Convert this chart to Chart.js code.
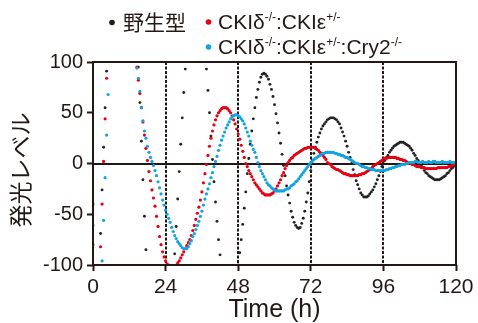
<!DOCTYPE html>
<html>
<head>
<meta charset="utf-8">
<script src="https://cdn.jsdelivr.net/npm/chart.js@4.4.0/dist/chart.umd.min.js"></script>
<style>
  html, body { margin: 0; padding: 0; background: #fff; }
  #wrap { width: 478px; height: 323px; position: relative; }
</style>
</head>
<body>
<div id="wrap"><canvas id="graph"></canvas></div>
<script>
// bioluminescence traces, one sample every 0.5 h from 0 to 120 h
const STEP_H = 0.5;

// 野生型
const wildType = [
  -80, -150, -170, -160, -115, -69, -26, 16, 55, 91,
  130, 165, 200, 230, 255, 275, 290, 298, 302, 300,
  295, 285, 272, 256, 238, 220, 198, 175, 152, 126,
  95, 60, 22, -16, -52, -85, -115, -145, -172, -196,
  -217, -235, -248, -257, -262, -262, -258, -248, -234, -216,
  -194, -170, -145, -117, -89, -62, -35, -8, 19, 45,
  70, 93, 115, 133, 146, 154, 158, 159, 157, 152,
  145, 137, 128, 118, 106, 93, 72, 50, 27, 4,
  -18, -38, -57, -75, -90, -102, -112, -119, -124, -127,
  -128, -128, -127, -123, -118, -110, -100, -88, -75, -60,
  -44, -28, -10, 5, 19, 32, 44, 55, 65, 73,
  80, 85, 88, 89, 88, 86, 83, 78, 73, 66,
  58, 49, 40, 30, 20, 9, -2, -12, -22, -31,
  -39, -47, -53, -58, -61, -63, -64, -63, -59, -54,
  -47, -38, -29, -18, -7, 3, 10, 16, 21, 26,
  30, 34, 37, 39, 41, 43, 44, 45, 45, 45,
  44, 43, 41, 39, 35, 31, 27, 22, 17, 11,
  6, 0, -6, -11, -17, -21, -25, -29, -31, -33,
  -33, -33, -32, -30, -28, -26, -23, -20, -16, -12,
  -8, -3, 0, 3, 6, 8, 11, 13, 15, 17,
  18, 19, 20, 21, 21, 21, 20, 19, 18, 17,
  15, 13, 10, 8, 5, 3, 0, -2, -4, -7,
  -9, -10, -12, -13, -14, -15, -16, -16, -16, -16,
  -15, -14, -13, -12, -10, -9, -7, -5, -4, -2,
  -1
];

// CKIδ-/-:CKIε+/-
const ckiMutant = [
  -40, -120, -150, -155, -125, -82, -40, 2, 44, 84,
  122, 155, 185, 210, 228, 240, 246, 248, 245, 238,
  227, 213, 197, 181, 165, 150, 136, 122, 108, 95,
  82, 69, 55, 41, 28, 15, 3, -8, -17, -26,
  -34, -42, -52, -62, -72, -80, -87, -92, -96, -99,
  -100, -101, -102, -101, -101, -100, -98, -96, -93, -90,
  -87, -84, -81, -78, -75, -71, -66, -61, -55, -49,
  -43, -36, -28, -19, -10, -1, 8, 17, 25, 32,
  38, 43, 47, 50, 52, 54, 55, 55, 55, 54,
  52, 50, 47, 43, 39, 34, 29, 24, 18, 12,
  6, 0, -3, -7, -10, -13, -16, -19, -21, -23,
  -25, -27, -29, -30, -31, -31, -31, -31, -30, -29,
  -27, -25, -22, -19, -16, -12, -9, -5, -2, 1,
  3, 5, 6, 8, 9, 10, 11, 12, 13, 14,
  15, 15, 16, 16, 16, 16, 16, 15, 14, 13,
  11, 10, 8, 6, 4, 1, 0, -1, -3, -4,
  -5, -6, -6, -7, -8, -9, -10, -10, -11, -11,
  -12, -12, -12, -12, -12, -12, -11, -11, -10, -10,
  -9, -8, -7, -6, -5, -3, -2, -1, 0, 1,
  2, 3, 4, 5, 5, 6, 6, 6, 6, 6,
  6, 5, 5, 4, 4, 3, 3, 2, 1, 0,
  0, -1, -1, -2, -3, -3, -3, -4, -4, -4,
  -5, -5, -5, -5, -5, -5, -5, -5, -4, -4,
  -4, -4, -4, -4, -4, -3, -3, -2, -1, -1,
  0
];

// CKIδ-/-:CKIε+/-:Cry2-/-
const cry2Mutant = [
  -61, -135, -160, -165, -150, -125, -96, -56, -14, 28,
  68, 106, 140, 170, 195, 214, 228, 236, 240, 238,
  232, 222, 208, 192, 174, 156, 138, 121, 105, 94,
  84, 71, 55, 42, 32, 25, 17, 11, 6, 2,
  -2, -7, -12, -18, -24, -30, -36, -41, -46, -50,
  -54, -58, -63, -67, -71, -74, -77, -79, -81, -83,
  -84, -84, -84, -82, -79, -76, -72, -69, -65, -61,
  -57, -52, -47, -41, -35, -30, -25, -20, -14, -9,
  -3, 2, 7, 13, 18, 23, 27, 31, 35, 38,
  41, 44, 46, 47, 48, 48, 47, 46, 44, 42,
  39, 35, 31, 27, 22, 18, 14, 11, 6, 1,
  -3, -7, -10, -13, -16, -19, -21, -22, -24, -25,
  -26, -27, -27, -27, -27, -27, -27, -26, -25, -25,
  -24, -22, -21, -20, -18, -17, -15, -13, -11, -9,
  -7, -5, -3, -1, 1, 2, 4, 5, 6, 7,
  8, 9, 10, 10, 11, 11, 11, 11, 11, 11,
  10, 10, 9, 9, 8, 8, 7, 6, 6, 5,
  4, 3, 2, 1, 0, 0, -1, -2, -3, -3,
  -4, -4, -5, -5, -6, -6, -6, -7, -7, -7,
  -7, -7, -7, -7, -6, -6, -5, -5, -4, -4,
  -3, -3, -2, -2, -1, -1, -1, 0, 0, 1,
  1, 1, 1, 2, 2, 1, 1, 1, 2, 1,
  1, 1, 2, 1, 1, 2, 2, 1, 1, 1,
  1, 2, 1, 1, 1, 1, 2, 1, 1, 1,
  0
];

const dayLines = [24, 48, 72, 96];

const INK = '#231815';
const RED = '#e60012';
const BLUE = '#12a4e2';
const FONT = "'Liberation Sans', Arial, 'Noto Sans CJK JP', sans-serif";

const hours = wildType.map((_, i) => i * STEP_H);
const toPoints = vals => vals.map((v, i) => ({ x: hours[i], y: v }));

// zero line, dotted 24 h lines and the box round the plot
const framePlugin = {
  id: 'frame',
  beforeDatasetsDraw(chart) {
    const { ctx, chartArea: a, scales: { x, y } } = chart;
    ctx.save();
    ctx.strokeStyle = INK;
    ctx.lineWidth = 2;
    ctx.setLineDash([3, 1.5]);
    dayLines.forEach(h => {
      const px = Math.round(x.getPixelForValue(h));
      ctx.beginPath();
      ctx.moveTo(px, a.top);
      ctx.lineTo(px, a.bottom);
      ctx.stroke();
    });
    ctx.setLineDash([]);
    const y0 = Math.round(y.getPixelForValue(0));
    ctx.beginPath();
    ctx.moveTo(a.left, y0);
    ctx.lineTo(a.right, y0);
    ctx.stroke();
    ctx.restore();
  },
  afterDatasetsDraw(chart) {
    const { ctx, chartArea: a } = chart;
    ctx.save();
    ctx.strokeStyle = INK;
    ctx.lineWidth = 2;
    ctx.strokeRect(a.left, a.top, a.right - a.left, a.bottom - a.top);
    ctx.restore();
  }
};

// legend with superscripts, and the rotated y title
const legendPlugin = {
  id: 'richLegend',
  afterDraw(chart) {
    const ctx = chart.ctx;
    ctx.save();
    ctx.fillStyle = INK;
    ctx.textBaseline = 'alphabetic';
    ctx.textAlign = 'left';

    const dot = (x, y, c) => {
      ctx.fillStyle = c;
      ctx.beginPath();
      ctx.arc(x, y, 2.8, 0, Math.PI * 2);
      ctx.fill();
      ctx.fillStyle = INK;
    };
    const rich = (x, base, parts) => {
      parts.forEach(([txt, sup]) => {
        ctx.font = (sup ? '12px ' : '21px ') + FONT;
        ctx.fillText(txt, x, sup ? base - 8 : base);
        x += ctx.measureText(txt).width;
      });
    };

    dot(112, 22.5, INK);
    rich(123, 29.5, [['野生型', false]]);
    dot(208.5, 22, RED);
    rich(218, 28.5, [['CKIδ', false], ['-/-', true], [':CKIε', false], ['+/-', true]]);
    dot(208.5, 47, BLUE);
    rich(218, 53.5, [['CKIδ', false], ['-/-', true], [':CKIε', false], ['+/-', true], [':Cry2', false], ['-/-', true]]);

    ctx.font = '23px ' + FONT;
    ctx.textAlign = 'center';
    ctx.textBaseline = 'middle';
    ctx.translate(23, 170);
    ctx.rotate(-Math.PI / 2);
    ctx.fillText('発光レベル', 0, 0);
    ctx.restore();
  }
};

Chart.defaults.font.family = FONT;
Chart.defaults.color = INK;

new Chart(document.getElementById('graph'), {
  type: 'scatter',
  data: {
    datasets: [
      { label: 'CKIδ-/-:CKIε+/-:Cry2-/-', data: toPoints(cry2Mutant), backgroundColor: BLUE, pointRadius: 1.6, borderWidth: 0, clip: 1 },
      { label: 'CKIδ-/-:CKIε+/-', data: toPoints(ckiMutant), backgroundColor: RED, pointRadius: 1.6, borderWidth: 0, clip: 1 },
      { label: '野生型', data: toPoints(wildType), backgroundColor: '#222', pointRadius: 1.45, borderWidth: 0, clip: 1 }
    ]
  },
  options: {
    responsive: true,
    maintainAspectRatio: false,
    animation: false,
    events: [],
    layout: { padding: { top: 62, right: 22, left: 0, bottom: 0 } },
    plugins: {
      legend: { display: false },
      tooltip: { enabled: false }
    },
    scales: {
      x: {
        type: 'linear',
        min: 0,
        max: 120,
        afterFit: s => { s.height = 58; },
        ticks: { stepSize: 24, color: INK, font: { size: 21 }, padding: 4, maxRotation: 0, autoSkip: false },
        grid: { drawOnChartArea: false, drawTicks: true, tickLength: 6, tickWidth: 2, tickColor: INK },
        border: { display: false },
        title: { display: true, text: 'Time (h)', color: INK, font: { size: 25, lineHeight: 1 }, padding: 0 }
      },
      y: {
        min: -100,
        max: 100,
        afterFit: s => { s.width = 93; },
        ticks: { stepSize: 50, color: INK, font: { size: 20 }, padding: 4 },
        grid: { drawOnChartArea: false, drawTicks: true, tickLength: 6, tickWidth: 2, tickColor: INK },
        border: { display: false }
      }
    }
  },
  plugins: [framePlugin, legendPlugin]
});
</script>
</body>
</html>
